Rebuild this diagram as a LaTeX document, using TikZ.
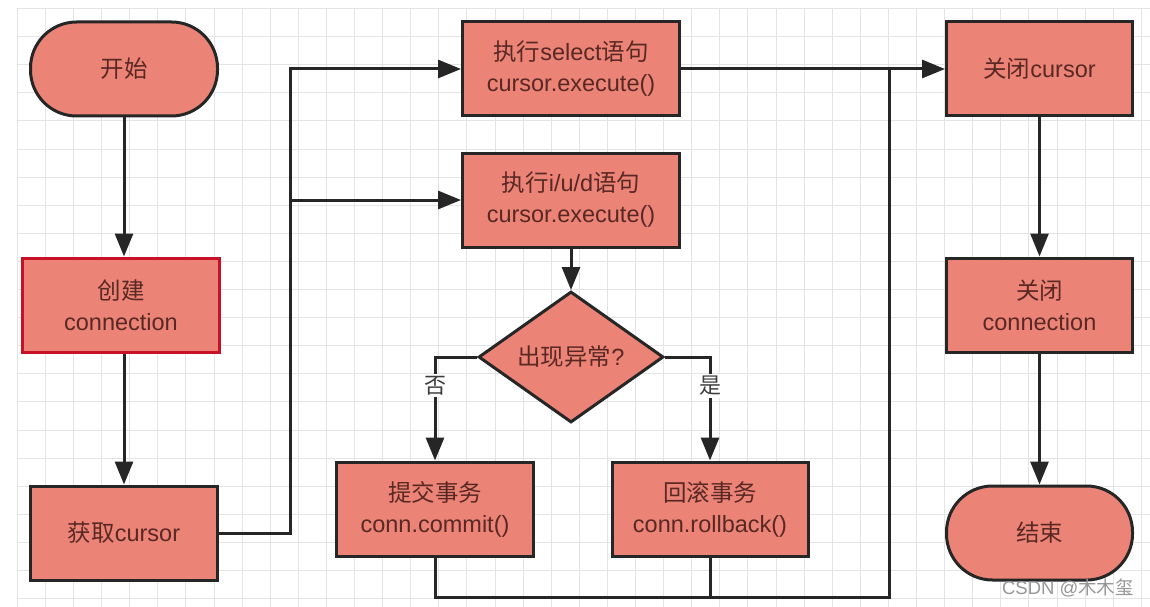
\documentclass[tikz,border=0pt]{standalone}
\usepackage{fontspec}
\setmainfont{Liberation Sans}
\newfontfamily\cjk{Noto Sans CJK SC}
\usetikzlibrary{shapes.geometric,arrows.meta}
\definecolor{boxfill}{RGB}{235,132,118}
\definecolor{boxline}{RGB}{38,38,38}
\definecolor{boxtext}{RGB}{90,40,36}
\definecolor{gridc}{RGB}{228,228,228}
\definecolor{redline}{RGB}{200,16,40}
\definecolor{lbltext}{RGB}{60,60,60}
\definecolor{marktext}{RGB}{150,150,150}
\begin{document}
\begin{tikzpicture}[x=1pt,y=-1pt,
  box/.style={draw=boxline, line width=3pt, fill=boxfill, text=boxtext,
    font=\fontsize{23.5}{31}\selectfont, align=center, inner sep=0pt,
    minimum width=#1, minimum height=94pt},
  stadium/.style={box=#1, rounded corners=46pt},
  decision/.style={diamond, draw=boxline, line width=3pt, fill=boxfill, text=boxtext,
    font=\fontsize{23.5}{31}\selectfont, inner sep=0pt, aspect=1.41,
    minimum width=185pt, minimum height=131pt},
  conn/.style={draw=boxline, line width=3pt},
  flow/.style={conn, -{Triangle[length=23pt,width=18pt]}},
  lbl/.style={fill=white, text=lbltext, font=\fontsize{22}{26}\selectfont\cjk, inner sep=2pt},
  gridline/.style={draw=gridc, line width=1pt}
]
\useasboundingbox (0,0) rectangle (1150,607);
\fill[white] (0,0) rectangle (1150,607);
% grid
\foreach \i in {0,...,40} \draw[gridline] ({17.3+28.1*\i},8.5) -- ({17.3+28.1*\i},607);
\foreach \j in {0,...,21} \draw[gridline] (17.3,{8.5+28.1*\j}) -- (1150,{8.5+28.1*\j});

% nodes
\node[stadium=187pt] (start) at (124,69) {{\cjk 开始}};
\node[box=197pt, draw=redline] (create) at (121,305) {{\cjk 创建}\\connection};
\node[box=187pt] (get) at (124,533) {{\cjk 获取}cursor};
\node[box=217pt] (sel) at (571,69) {{\cjk 执行}select{\cjk 语句}\\cursor.execute()};
\node[box=217pt] (iud) at (571,200) {{\cjk 执行}i/u/d{\cjk 语句}\\cursor.execute()};
\node[decision] (dia) at (571,357) {{\cjk 出现异常}?};
\node[box=197pt] (commit) at (435,509) {{\cjk 提交事务}\\conn.commit()};
\node[box=196pt] (rollback) at (710,509) {{\cjk 回滚事务}\\conn.rollback()};
\node[box=186pt] (closecur) at (1039.5,69) {{\cjk 关闭}cursor};
\node[box=186pt] (closeconn) at (1039.5,305) {{\cjk 关闭}\\connection};
\node[stadium=186pt] (end) at (1039.5,533) {{\cjk 结束}};

\coordinate (lbus) at (290,0);
\coordinate (rbus) at (889,0);
\coordinate (bot) at (889,597);

% connectors
\draw[flow] (start.south -| 124,0) -- (create.north -| 124,0);
\draw[flow] (create.south -| 124,0) -- (get.north -| 124,0);
\draw[flow] (get.east) -| (lbus |- sel.west) -- (sel.west);
\draw[flow] (lbus |- iud.west) -- (iud.west);
\draw[flow] (sel.east) -- (closecur.west);
\draw[flow] (iud.south) -- (dia.north);
\draw[flow] (dia.west) -| (commit.north) node[pos=0.64, lbl] {否};
\draw[flow] (dia.east) -| (rollback.north) node[pos=0.64, lbl] {是};
\draw[conn] (commit.south) |- (bot) -- (rbus |- sel.east);
\draw[conn] (rollback.south) -- (rollback.south |- bot);
\draw[flow] (closecur.south) -- (closeconn.north);
\draw[flow] (closeconn.south) -- (end.north);

% platform mark
\node[text=marktext, font=\fontsize{18.5}{20}\selectfont, inner sep=0pt] (mark) at (1068,588) {CSDN @{\cjk 木木玺}};
\end{tikzpicture}
\end{document}
